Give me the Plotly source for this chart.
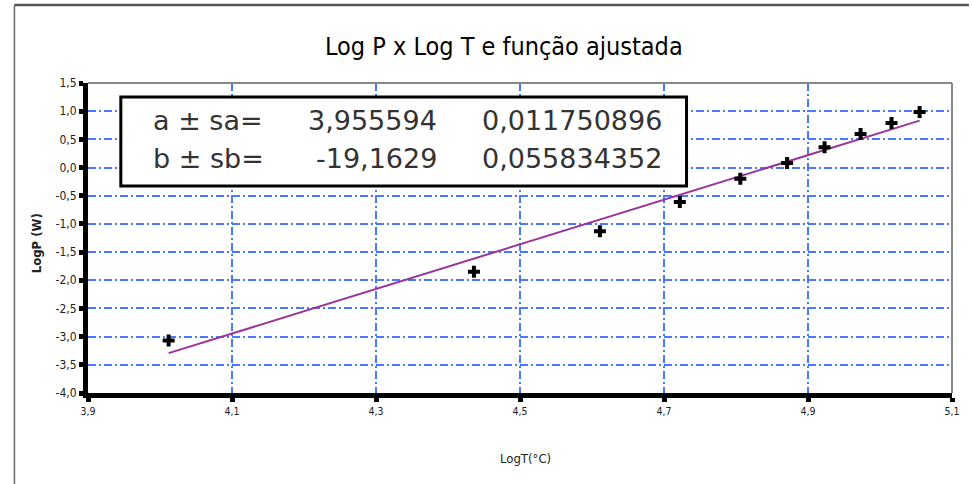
import plotly.graph_objects as go

# Measured points: log of temperature vs log of power
log_t = [4.012, 4.436, 4.611, 4.722, 4.806, 4.871, 4.923, 4.973, 5.016, 5.055]
log_p = [-3.07, -1.85, -1.13, -0.61, -0.20, 0.08, 0.36, 0.595, 0.79, 0.985]

# Fitted linear model  LogP = a*LogT + b
a, sa = 3.955594, 0.011750896
b, sb = -19.1629, 0.055834352

# Axis ticks
x_ticks = [3.9, 4.1, 4.3, 4.5, 4.7, 4.9, 5.1]
x_tick_text = ["3,9", "4,1", "4,3", "4,5", "4,7", "4,9", "5,1"]
y_ticks = [1.5, 1.0, 0.5, 0.0, -0.5, -1.0, -1.5, -2.0, -2.5, -3.0, -3.5, -4.0]
y_tick_text = ["1,5", "1,0", "0,5", "0,0", "-0,5", "-1,0", "-1,5", "-2,0",
               "-2,5", "-3,0", "-3,5", "-4,0"]

W, H = 972, 484
L, R, T, B = 88, 15, 83, 91
PW, PH = W - L - R, H - T - B


def px(x):
    return (x - L) / PW


def py(y):
    return (H - B - y) / PH


fit_x = [log_t[0], log_t[-1]]
fit_y = [a * v + b for v in fit_x]

narrow = "DejaVu Sans Condensed, Liberation Sans Narrow, Arial Narrow, sans-serif"
wide = "DejaVu Sans, Verdana, sans-serif"
grid_blue = "#4a78ff"

fig = go.Figure()
fig.add_trace(go.Scatter(
    x=fit_x, y=fit_y, mode="lines",
    line=dict(color="#993399", width=2),
    showlegend=False, hoverinfo="skip",
))
fig.add_trace(go.Scatter(
    x=log_t, y=log_p, mode="markers",
    marker=dict(symbol="cross", size=10, color="black"),
    showlegend=False,
))

axis_common = dict(
    showline=True, linecolor="black", linewidth=5,
    ticks="outside", ticklen=4, tickwidth=5, tickcolor="black",
    showgrid=True, gridcolor=grid_blue, gridwidth=1.5,
    griddash="8px,3px,2px,3px",
    zeroline=False, mirror=False,
)

fig.update_xaxes(range=[3.9, 5.1], tickvals=x_ticks, ticktext=x_tick_text,
                 tickfont=dict(family=narrow, size=10.5, color="#222"),
                 **axis_common)
fig.update_yaxes(range=[-4.0, 1.5], tickvals=y_ticks, ticktext=y_tick_text,
                 tickfont=dict(family=narrow, size=12, color="#222"),
                 **axis_common)

shapes = [
    # outer chart frame (top and left edges)
    dict(type="line", xref="paper", yref="paper",
         x0=px(14), y0=py(5), x1=px(W + 2), y1=py(5),
         line=dict(color="#555555", width=2.5)),
    dict(type="line", xref="paper", yref="paper",
         x0=px(14), y0=py(5), x1=px(14), y1=py(H + 2),
         line=dict(color="#666666", width=1.5)),
    # plot area top and right edges
    dict(type="line", xref="paper", yref="paper",
         x0=0, y0=1, x1=1, y1=1, line=dict(color="#888888", width=2)),
    dict(type="line", xref="paper", yref="paper",
         x0=1, y0=0, x1=1, y1=1, line=dict(color="#888888", width=2)),
    # parameter box
    dict(type="rect", xref="paper", yref="paper", layer="above",
         x0=px(121), y0=py(186), x1=px(690), y1=py(97),
         fillcolor="white", line=dict(color="black", width=3)),
]

annotations = [
    dict(text="Log P x Log T e função ajustada", xref="paper", yref="paper",
         x=px(506), y=py(47), xanchor="center", yanchor="middle",
         showarrow=False, font=dict(family=narrow, size=25, color="black")),
    dict(text="<b>LogP (W)</b>", xref="paper", yref="paper",
         x=px(36), y=py(243), xanchor="center", yanchor="middle",
         textangle=-90, showarrow=False,
         font=dict(family=narrow, size=13, color="#222")),
    dict(text="LogT(°C)", xref="paper", yref="paper",
         x=px(528), y=py(458), xanchor="center", yanchor="middle",
         showarrow=False, font=dict(family=narrow, size=13, color="#222")),
]

rows = [
    ("a ± sa=", f"{a:.6f}".replace(".", ","), f"{sa:.9f}".replace(".", ","), 120),
    ("b ± sb=", f"{b:.4f}".replace(".", ","), f"{sb:.9f}".replace(".", ","), 158),
]
for label, val, err, ypix in rows:
    for txt, xpix, anchor in ((label, 151, "left"), (val, 441, "right"),
                              (err, 667, "right")):
        annotations.append(dict(
            text=txt, xref="paper", yref="paper", x=px(xpix), y=py(ypix),
            xanchor=anchor, yanchor="middle", showarrow=False,
            font=dict(family=wide, size=27, color="#333")))

fig.update_layout(
    width=W, height=H,
    margin=dict(l=L, r=R, t=T, b=B),
    paper_bgcolor="white", plot_bgcolor="white",
    shapes=shapes, annotations=annotations,
    showlegend=False,
)

fig.write_html("out.html")
